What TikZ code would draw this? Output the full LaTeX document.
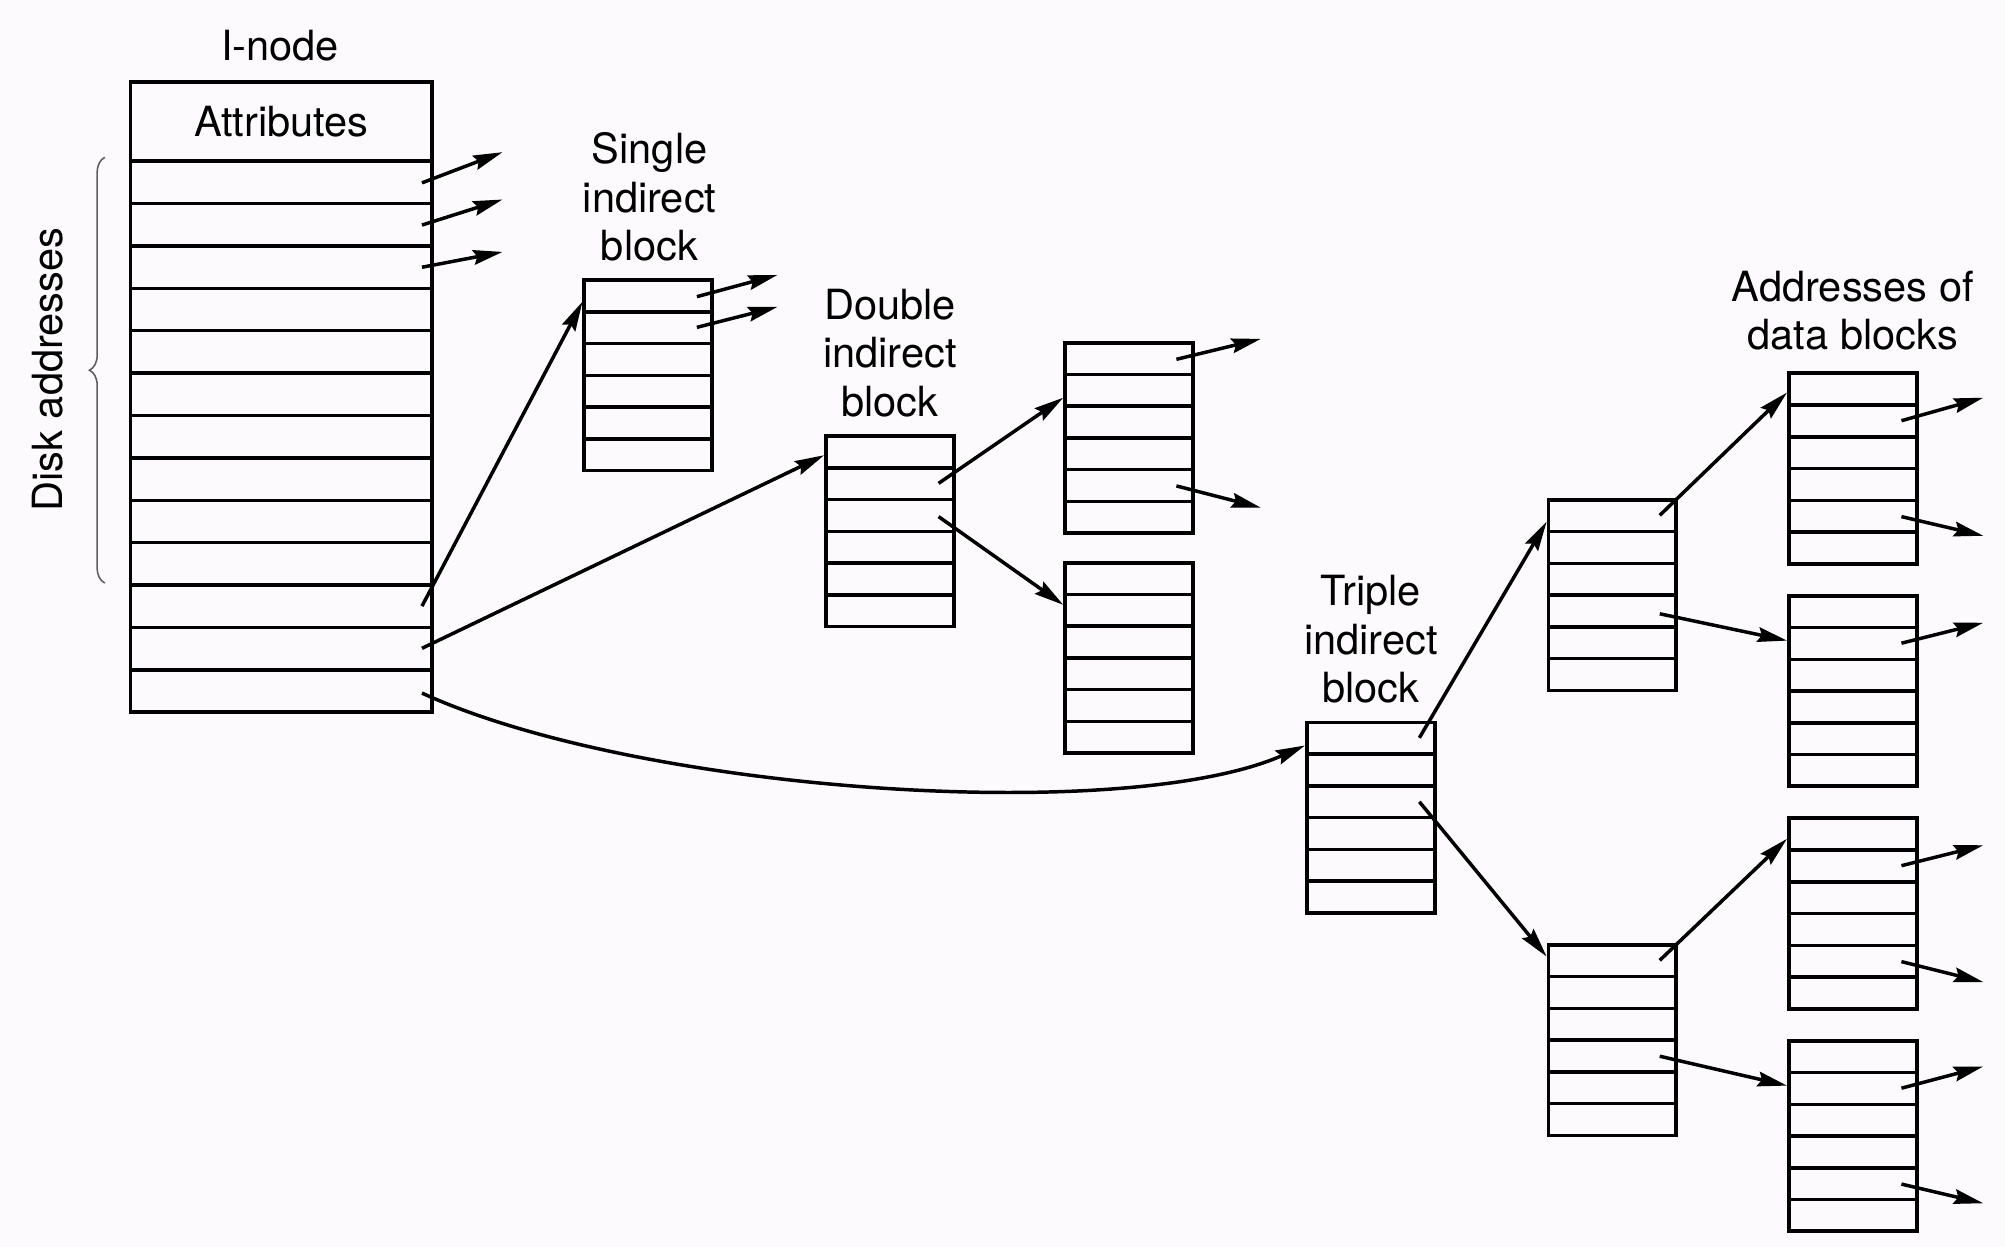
\documentclass[tikz,border=0pt]{standalone}
\usepackage{fontspec}
\setmainfont{TeX Gyre Heros}
\usetikzlibrary{arrows.meta,calc,decorations.pathreplacing}
\definecolor{bgcol}{RGB}{252,250,252}
\definecolor{bracecol}{RGB}{95,95,95}
\tikzset{
  blockbox/.style={draw, line width=1.7pt, minimum width=2cm, minimum height=2.98cm, anchor=north west, inner sep=0pt, outer sep=0pt},
  inodebox/.style={draw, line width=1.7pt, minimum width=4.72cm, minimum height=9.86cm, anchor=north west, inner sep=0pt, outer sep=0pt},
  rowline/.style={line width=1.55pt},
  arr/.style={line width=1.55pt, -{Stealth[length=0.46cm,width=0.23cm,inset=0.06cm]}},
  lbl/.style={font=\fontsize{18.5}{21.5}\selectfont, align=center, inner sep=0pt},
}
% block with 6 rows
\newcommand\blk[3]{%
  \node[blockbox] (#1) at (#2,#3) {};
  \foreach \k in {1,...,5}{\draw[rowline] ($(#1.north west)+(0,\k*24.83)$) -- ($(#1.north east)+(0,\k*24.83)$);}
}
% short outgoing arrow with free end: block, dx start, dy start, dx end, dy end
\newcommand\stub[5]{%
  \coordinate (#1s#3) at ($(#1.north west)+(#2,#3)$);
  \coordinate (#1e#3) at ($(#1.north west)+(#4,#5)$);
  \draw[arr] (#1s#3) -- (#1e#3);
}
% link between blocks: from, dx, dy, to, dy
\newcommand\link[5]{%
  \coordinate (#1o#3) at ($(#1.north west)+(#2,#3)$);
  \coordinate (#4i#5) at ($(#4.north west)+(-1.5,#5)$);
  \draw[arr] (#1o#3) -- (#4i#5);
}
\begin{document}
\begin{tikzpicture}[x=0.02cm,y=-0.02cm]
\useasboundingbox (0,0) rectangle (1568,975);
\fill[bgcol] (0,0) rectangle (1568,975);

% I-node
\node[lbl] (inodelabel) at (219,36) {I-node};
\node[inodebox] (inode) at (102,64) {};
\draw[line width=1.7pt] ($(inode.north west)+(0,62)$) -- ($(inode.north east)+(0,62)$);
\foreach \k in {1,...,12}{\draw[rowline] ($(inode.north west)+(0,62+\k*33.15)$) -- ($(inode.north east)+(0,62+\k*33.15)$);}
\node[lbl] (attr) at (220,95) {Attributes};

% brace and label
\draw[decorate, decoration={brace, amplitude=0.24cm}, bracecol, line width=0.7pt] (82,456) -- (82,123);
\node[lbl, rotate=90] (disk) at (37,289) {Disk addresses};

% blocks
\blk{single}{457}{219}
\blk{double}{646}{341}
\blk{dA}{833}{268}
\blk{dB}{833}{440}
\blk{triple}{1022}{565}
\blk{tA}{1211}{391}
\blk{tB}{1211}{739}
\blk{d1}{1399}{292}
\blk{d2}{1399}{466}
\blk{d3}{1399}{640}
\blk{d4}{1399}{814}

% labels
\node[lbl] (singlelabel) at (508,154) {Single\\indirect\\block};
\node[lbl] (doublelabel) at (696,276) {Double\\indirect\\block};
\node[lbl] (triplelabel) at (1072,500) {Triple\\indirect\\block};
\node[lbl] (datalabel) at (1449,243) {Addresses of\\data blocks};

% direct addresses
\stub{inode}{228}{79}{291}{55}
\stub{inode}{228}{112}{291}{92}
\stub{inode}{228}{145}{291}{133}

% inode links
\link{inode}{228}{410}{single}{17}
\link{inode}{228}{443}{double}{15}
\coordinate (inodeo478) at ($(inode.north west)+(228,478)$);
\coordinate (triplei18) at ($(triple.north west)+(-1.5,18)$);
\draw[arr] (inodeo478) .. controls (500,620) and (880,645) .. (triplei18);

% single indirect
\stub{single}{88}{13}{151}{-4}
\stub{single}{88}{37}{151}{21}

% double indirect
\link{double}{88}{37}{dA}{43}
\link{double}{88}{63}{dB}{33}
\stub{dA}{87}{13}{153}{-3}
\stub{dA}{87}{112}{153}{129}

% triple indirect
\link{triple}{88}{12}{tA}{17}
\link{triple}{88}{62}{tB}{9}
\link{tA}{87}{12}{d1}{15}
\link{tA}{87}{89}{d2}{35}
\link{tB}{87}{12}{d3}{16}
\link{tB}{87}{87}{d4}{35}

% data block addresses
\stub{d1}{88}{37}{152}{19}
\stub{d1}{88}{112}{152}{127}
\stub{d2}{88}{37}{152}{21}
\stub{d3}{88}{37}{152}{21}
\stub{d3}{88}{112}{152}{128}
\stub{d4}{88}{37}{152}{20}
\stub{d4}{88}{112}{152}{127}
\end{tikzpicture}
\end{document}
